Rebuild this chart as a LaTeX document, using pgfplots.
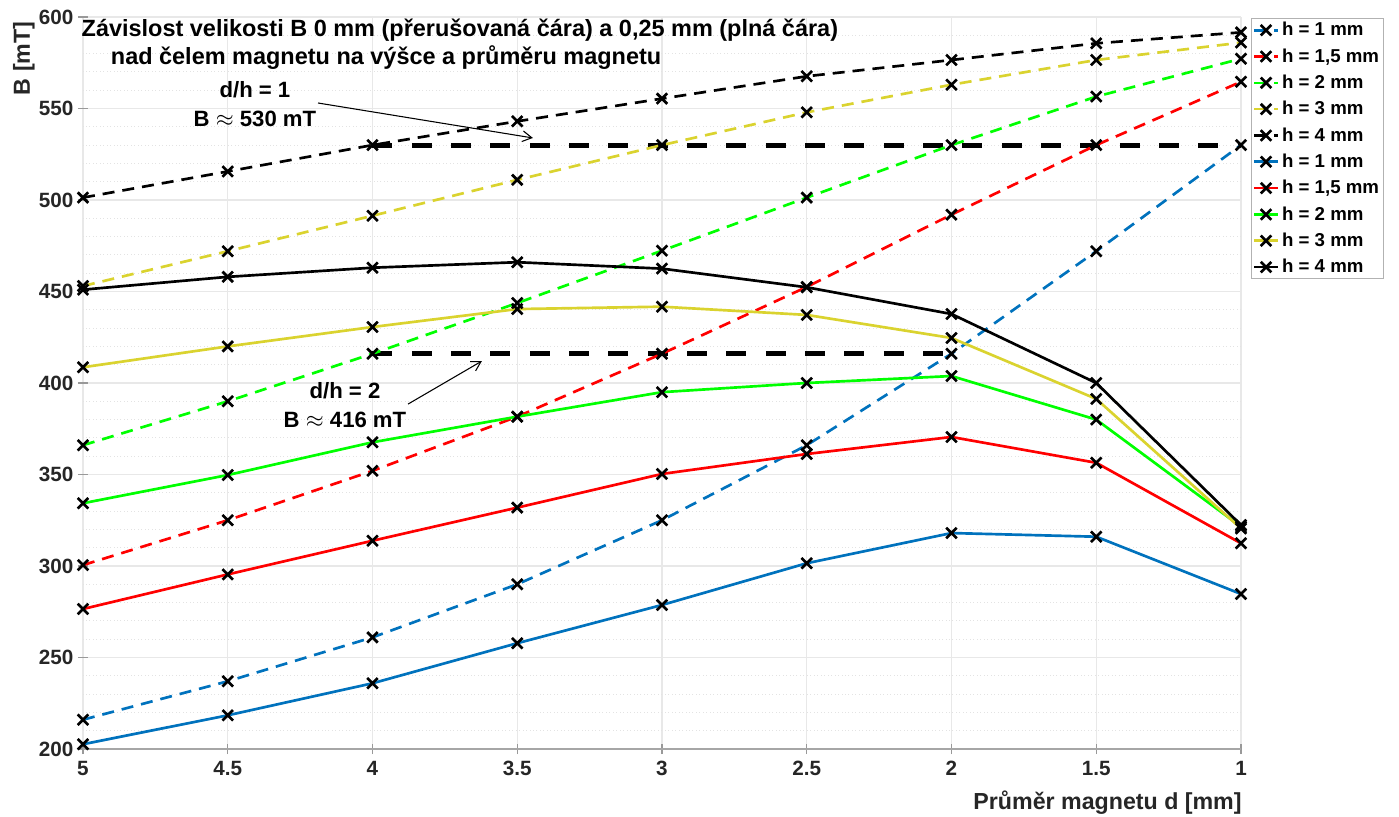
\documentclass[border=0pt]{standalone}
\usepackage{fontspec}
\setmainfont{Liberation Sans}
\usepackage{pgfplots}
\pgfplotsset{compat=1.18}
\usetikzlibrary{arrows.meta}

\definecolor{mblue}{rgb}{0,0.447,0.741}
\definecolor{mred}{rgb}{1,0,0}
\definecolor{mgreen}{rgb}{0,1,0}
\definecolor{myellow}{RGB}{218,211,47}
\definecolor{tickgray}{RGB}{38,38,38}

\pgfplotsset{
  dsh/.style={line width=2pt, dash pattern=on 9pt off 6pt, mark=x, mark size=5.6pt,
    mark options={black, solid, line width=2pt}},
  sld/.style={line width=2pt, solid, mark=x, mark size=5.6pt,
    mark options={black, solid, line width=2pt}},
}

\begin{document}
\begin{tikzpicture}
\begin{axis}[
  scale only axis, width=868.5pt, height=549pt,
  xmin=1, xmax=5, ymin=200, ymax=600, x dir=reverse,
  xtick={1,1.5,2,2.5,3,3.5,4,4.5,5},
  ytick={200,250,300,350,400,450,500,550,600},
  minor y tick num=4,
  minor tick length=0pt,
  major tick length=7.5pt,
  tick align=inside,
  axis x line=bottom, axis y line=left,
  axis line style={draw=gray!70, line width=0.8pt, -},
  y axis line style={draw=none},
  tick style={draw=gray!80, line width=0.8pt},
  xtick pos=bottom, ytick pos=left,
  grid=both,
  major grid style={draw=gray!18, line width=0.8pt, solid},
  minor grid style={draw=gray!22, line width=0.6pt, dotted},
  tick label style={font=\bfseries\fontsize{15.5}{18}\selectfont, text=tickgray},
  xticklabel style={yshift=-2pt},
  /pgf/number format/assume math mode=true,
  xlabel={Průměr magnetu d [mm]},
  ylabel={B [mT]},
  label style={font=\bfseries\fontsize{17.4}{20}\selectfont, text=tickgray},
  xlabel style={at={(axis description cs:1,-0.0833)}, anchor=base east, xshift=4pt},
  ylabel style={at={(axis description cs:-0.0458,1)}, anchor=base east},
  clip=false,
  legend style={at={(1.0086,0.9986)}, anchor=north west, draw=gray!60, line width=0.6pt,
    fill=white, inner sep=1pt, font=\bfseries\fontsize{14}{16}\selectfont,
    row sep=4.1pt},
  legend cell align=left,
  legend image code/.code={\draw[mark repeat=2, mark phase=2] plot coordinates {(0pt,0pt) (9pt,0pt) (18pt,0pt)};},
]

% d/h reference lines
\addplot[forget plot, black, line width=3.75pt, dash pattern=on 15pt off 14.5pt] coordinates {(4,530) (1,530)};
\addplot[forget plot, black, line width=3.75pt, dash pattern=on 15pt off 14.5pt] coordinates {(4,416) (2,416)};

% dashed: 0 mm
\addplot[dsh, mblue] coordinates {(5,216) (4.5,237) (4,261) (3.5,290) (3,325) (2.5,366) (2,416) (1.5,472) (1,530)};
\addlegendentry{h = 1 mm}
\addplot[dsh, mred] coordinates {(5,300.5) (4.5,325) (4,352) (3.5,381.6) (3,416) (2.5,452.5) (2,492) (1.5,530) (1,564.6)};
\addlegendentry{h = 1,5 mm}
\addplot[dsh, mgreen] coordinates {(5,366) (4.5,390) (4,416) (3.5,443.7) (3,472.3) (2.5,501.3) (2,530) (1.5,556.5) (1,577.2)};
\addlegendentry{h = 2 mm}
\addplot[dsh, myellow] coordinates {(5,453) (4.5,472) (4,491.4) (3.5,511) (3,530) (2.5,547.9) (2,563) (1.5,576.5) (1,586)};
\addlegendentry{h = 3 mm}
\addplot[dsh, black] coordinates {(5,501.3) (4.5,515.6) (4,530) (3.5,543) (3,555.4) (2.5,567.6) (2,576.5) (1.5,585.6) (1,591.6)};
\addlegendentry{h = 4 mm}

% solid: 0.25 mm
\addplot[sld, mblue] coordinates {(5,202.6) (4.5,218.4) (4,235.9) (3.5,257.8) (3,278.7) (2.5,301.5) (2,318) (1.5,316) (1,284.7)};
\addlegendentry{h = 1 mm}
\addplot[sld, mred] coordinates {(5,276.5) (4.5,295.4) (4,313.8) (3.5,331.9) (3,350.3) (2.5,361.2) (2,370.5) (1.5,356.4) (1,312.4)};
\addlegendentry{h = 1,5 mm}
\addplot[sld, mgreen] coordinates {(5,334.3) (4.5,349.7) (4,367.6) (3.5,381.6) (3,395) (2.5,400) (2,403.8) (1.5,380) (1,321.5)};
\addlegendentry{h = 2 mm}
\addplot[sld, myellow] coordinates {(5,408.6) (4.5,420) (4,430.6) (3.5,440.4) (3,441.7) (2.5,437.2) (2,424.6) (1.5,391.3) (1,320.5)};
\addlegendentry{h = 3 mm}
\addplot[sld, black] coordinates {(5,451) (4.5,458) (4,463) (3.5,466) (3,462.5) (2.5,452.3) (2,437.7) (1.5,400) (1,322.4)};
\addlegendentry{h = 4 mm}

% title
\node[anchor=base, font=\bfseries\fontsize{17.6}{21}\selectfont] at (axis cs:3.698,589.6) {Závislost velikosti B 0 mm (přerušovaná čára) a 0,25 mm (plná čára)};
\node[anchor=base, font=\bfseries\fontsize{17.6}{21}\selectfont] at (axis cs:3.953,573.8) {nad čelem magnetu na výšce a průměru magnetu};

% annotations
\node[anchor=base, font=\bfseries\fontsize{16.6}{20}\selectfont] at (axis cs:4.406,556) {d/h = 1};
\node[anchor=base, font=\bfseries\fontsize{16.6}{20}\selectfont] at (axis cs:4.406,540.4) {B $\approx$ 530 mT};
\draw[line width=0.8pt, -{Straight Barb[length=7pt,width=8pt]}] (axis cs:4.188,553) -- (axis cs:3.446,533.9);
\node[anchor=base, font=\bfseries\fontsize{16.6}{20}\selectfont] at (axis cs:4.095,391.6) {d/h = 2};
\node[anchor=base, font=\bfseries\fontsize{16.6}{20}\selectfont] at (axis cs:4.095,375.6) {B $\approx$ 416 mT};
\draw[line width=0.8pt, -{Straight Barb[length=7pt,width=8pt]}] (axis cs:3.877,388.5) -- (axis cs:3.622,412);

\coordinate (SW) at (axis description cs:0,0);
\end{axis}
\pgfresetboundingbox
\path (SW) ++(-62.25pt,-51pt) rectangle ++(1049.25pt,612.75pt);
\end{tikzpicture}
\end{document}
